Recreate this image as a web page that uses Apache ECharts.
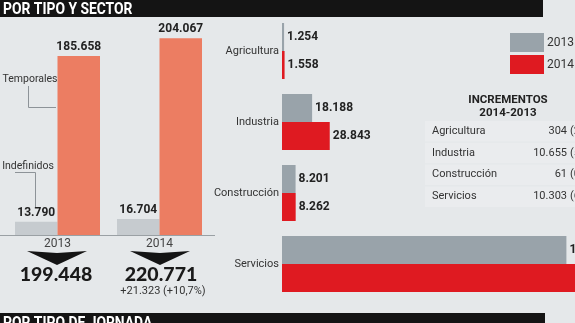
<!DOCTYPE html>
<html><head><meta charset="utf-8">
<script src="https://cdn.jsdelivr.net/npm/echarts@6/dist/echarts.min.js"></script>
<style>html,body{margin:0;padding:0;background:#e5e8ea}#c{width:575px;height:323px}</style>
</head><body><div id="c"></div>
<script>
// Contratos por tipo (indefinidos / temporales) y por sector
const years = ['2013', '2014'];
const indefinidos = [13790, 16704];
const temporales = [185658, 204067];

const sectors = ['Agricultura', 'Industria', 'Construcción', 'Servicios'];
const sector2013 = [1254, 18188, 8201, 171805];
const sector2014 = [1558, 28843, 8262, 182108];

const FONT = 'Roboto';
const fmt = n => String(n).replace(/\B(?=(\d{3})+(?!\d))/g, '.');
const dec = x => x.toFixed(1).replace('.', ',');

const totals = years.map((_, i) => indefinidos[i] + temporales[i]);
const diff = totals[1] - totals[0];
const diffPct = diff / totals[0] * 100;

const chart = echarts.init(document.getElementById('c'), null, { renderer: 'canvas' });

// tabla de incrementos 2014-2013
const tableEls = [];
sectors.forEach((s, i) => {
  const y = 131 + i * 21.8;
  const inc = sector2014[i] - sector2013[i];
  tableEls.push({ type: 'rect', shape: { x: 425, y: y - 10, width: 150, height: 20.5 },
    style: { fill: '#eaecee' }, z: 1 });
  tableEls.push({ type: 'text', x: 432, y: y, style: { text: s, font: '11px ' + FONT,
    fill: '#333', verticalAlign: 'middle' }, z: 2 });
  tableEls.push({ type: 'text', x: 567, y: y, style: { text: fmt(inc), font: '11px ' + FONT,
    fill: '#333', align: 'right', verticalAlign: 'middle' }, z: 2 });
  tableEls.push({ type: 'text', x: 570, y: y, style: { text: '(' + dec(inc / sector2013[i] * 100) + '%)',
    font: '11px ' + FONT, fill: '#333', verticalAlign: 'middle' }, z: 2 });
});

chart.setOption({
  backgroundColor: '#e5e8ea',
  animation: false,
  textStyle: { fontFamily: FONT },
  legend: {
    data: ['2013', '2014'], orient: 'vertical', left: 510, top: 33, padding: 0,
    itemWidth: 34, itemHeight: 19, itemGap: 3, icon: 'rect',
    textStyle: { fontSize: 12, color: '#333', padding: [0, 0, 0, -2] }
  },
  grid: [
    { left: 6.5, width: 204, top: 23, height: 212 },
    // el panel de sectores continúa más allá del borde derecho
    { left: 282, right: 0, top: 15.5, height: 284 }
  ],
  xAxis: [
    { type: 'category', gridIndex: 0, data: years,
      axisLine: { show: false }, axisTick: { show: false },
      axisLabel: { margin: 3, fontSize: 12, color: '#444' } },
    { type: 'value', gridIndex: 1, min: 0, max: 177000, show: false }
  ],
  yAxis: [
    { type: 'value', gridIndex: 0, min: 0, max: 220000, show: false },
    { type: 'category', gridIndex: 1, data: sectors, inverse: true,
      axisLine: { show: false }, axisTick: { show: false },
      axisLabel: { margin: 3, fontSize: 11, color: '#333' } }
  ],
  series: [
    { name: 'Indefinidos', type: 'bar', xAxisIndex: 0, yAxisIndex: 0, data: indefinidos,
      barWidth: 42.5, barGap: '0%', itemStyle: { color: '#c6cbcf' },
      label: { show: true, position: 'top', distance: 3, fontSize: 12, fontWeight: 'bold',
        color: '#222', formatter: p => fmt(p.value) } },
    { name: 'Temporales', type: 'bar', xAxisIndex: 0, yAxisIndex: 0, data: temporales,
      barWidth: 42.5, barGap: '0%', itemStyle: { color: '#ec7d62' },
      label: { show: true, position: 'top', distance: 3, fontSize: 12, fontWeight: 'bold',
        color: '#222', formatter: p => fmt(p.value) } },
    { name: '2013', type: 'bar', xAxisIndex: 1, yAxisIndex: 1, data: sector2013,
      barWidth: 28, barGap: '0%', itemStyle: { color: '#99a3aa' },
      label: { show: true, position: 'right', distance: 3, fontSize: 12, fontWeight: 'bold',
        color: '#222', formatter: p => fmt(p.value) } },
    { name: '2014', type: 'bar', xAxisIndex: 1, yAxisIndex: 1, data: sector2014,
      barWidth: 28, barGap: '0%', itemStyle: { color: '#df1a21' },
      label: { show: true, position: 'right', distance: 3, fontSize: 12, fontWeight: 'bold',
        color: '#222', formatter: p => fmt(p.value) } }
  ],
  graphic: [
    // cabeceras
    { type: 'rect', shape: { x: 0, y: 0, width: 543, height: 17 }, style: { fill: '#141414' }, z: 5 },
    { type: 'text', x: 3, y: 9.5, scaleX: 0.84, style: { text: 'POR TIPO Y SECTOR',
      font: 'bold 16.5px ' + FONT, fill: '#fff', verticalAlign: 'middle' }, z: 6 },
    { type: 'rect', shape: { x: 0, y: 313, width: 545, height: 12 }, style: { fill: '#141414' }, z: 5 },
    { type: 'text', x: 3, y: 315, scaleX: 0.84, style: { text: 'POR TIPO DE JORNADA',
      font: 'bold 16.5px ' + FONT, fill: '#fff', verticalAlign: 'top' }, z: 6 },
    // eje base
    { type: 'line', shape: { x1: 0, y1: 235.5, x2: 215, y2: 235.5 },
      style: { stroke: '#9aa0a4', lineWidth: 1 }, z: 3 },
    // anotaciones
    { type: 'text', x: 30, y: 79, style: { text: 'Temporales', font: '10.5px ' + FONT,
      fill: '#333', align: 'center', verticalAlign: 'middle' }, z: 3 },
    { type: 'polyline', shape: { points: [[28.5, 86], [28.5, 107.5], [56, 107.5]] },
      style: { stroke: '#8d9398', lineWidth: 1, fill: null }, z: 3 },
    { type: 'text', x: 28, y: 166, style: { text: 'Indefinidos', font: '10.5px ' + FONT,
      fill: '#333', align: 'center', verticalAlign: 'middle' }, z: 3 },
    { type: 'polyline', shape: { points: [[15, 172.5], [35.5, 172.5], [35.5, 207]] },
      style: { stroke: '#8d9398', lineWidth: 1, fill: null }, z: 3 },
    // flechas y totales
    { type: 'polygon', shape: { points: [[27, 251], [57, 253], [87, 251], [57, 265]] },
      style: { fill: '#141414' }, z: 3 },
    { type: 'polygon', shape: { points: [[130, 251], [160, 253], [190, 251], [160, 265]] },
      style: { fill: '#141414' }, z: 3 },
    { type: 'text', x: 56, y: 275, style: { text: fmt(totals[0]), font: '900 19.5px Lato',
      fill: '#1a1a1a', align: 'center', verticalAlign: 'middle' }, z: 3 },
    { type: 'text', x: 161, y: 275, style: { text: fmt(totals[1]), font: '900 19.5px Lato',
      fill: '#1a1a1a', align: 'center', verticalAlign: 'middle' }, z: 3 },
    { type: 'text', x: 163, y: 291, style: { text: '+' + fmt(diff) + ' (+' + dec(diffPct) + '%)',
      font: '11px ' + FONT, fill: '#333', align: 'center', verticalAlign: 'middle' }, z: 3 },
    // tabla
    { type: 'text', x: 508, y: 100, style: { text: 'INCREMENTOS', font: 'bold 11.5px ' + FONT,
      fill: '#222', align: 'center', verticalAlign: 'middle' }, z: 2 },
    { type: 'text', x: 508, y: 113.5, style: { text: '2014-2013', font: 'bold 11.5px ' + FONT,
      fill: '#222', align: 'center', verticalAlign: 'middle' }, z: 2 },
    ...tableEls
  ]
});
</script>
</body></html>
